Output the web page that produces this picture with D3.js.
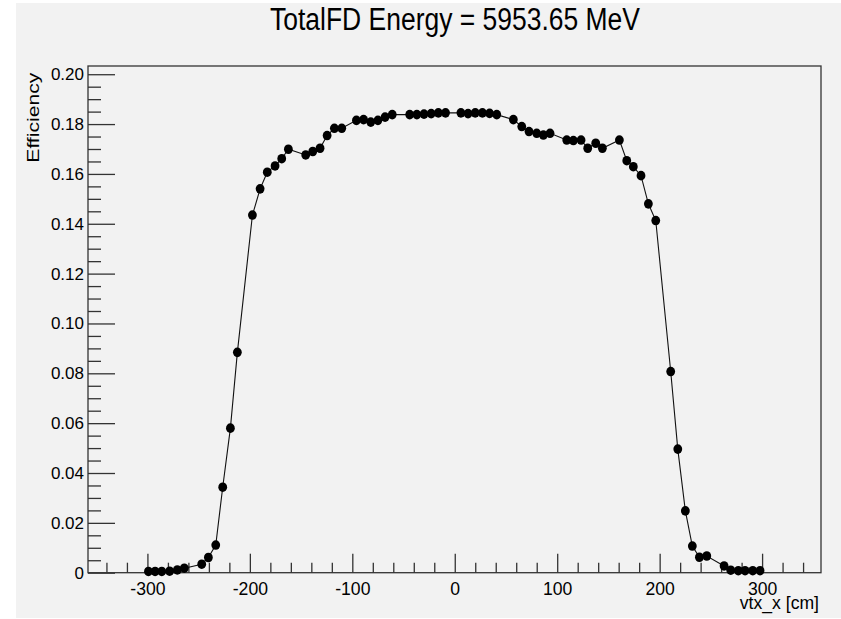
<!DOCTYPE html>
<html>
<head>
<meta charset="utf-8">
<script src="https://cdn.jsdelivr.net/npm/d3@7"></script>
<style>
  body { margin: 0; background: #fff; }
  text { font-family: "Liberation Sans", Arial, sans-serif; fill: #000; }
</style>
</head>
<body>
<div id="chart"></div>
<script>
// vertex x positions [cm] and efficiency
const vtxX = [
  -299, -292.5, -286, -278.3, -270.8, -264,
  -247, -240.5, -233.3, -226.5, -219, -212.2,
  -197.5, -190, -183, -175.4, -168.9, -162.4,
  -145.5, -138.6, -131.5, -124.6, -117.5, -110.3,
  -96, -89, -82, -75, -68, -61,
  -44, -37, -30, -23, -16, -9,
  6, 13, 20, 27, 34, 41,
  57.2, 65.4, 72.5, 80, 86.5, 93,
  109.3, 115.8, 123.3, 129.8, 137.6, 144.1,
  160.7, 167.9, 174.3, 181.8, 189, 196.2,
  210.8, 217.7, 225.1, 231.9, 238.8, 246,
  262.9, 269.4, 276.8, 283.4, 290.9, 298
];
const efficiency = [
  0.0005, 0.0005, 0.0005, 0.0006, 0.0011, 0.0018,
  0.0034, 0.0061, 0.0111, 0.0343, 0.058, 0.0884,
  0.1435, 0.154, 0.1607, 0.1632, 0.1661, 0.1699,
  0.1676, 0.169, 0.1703, 0.1754, 0.1783, 0.1783,
  0.1815, 0.1818, 0.1808, 0.1815, 0.1828, 0.1838,
  0.1838, 0.1838, 0.184, 0.1842, 0.1845, 0.1845,
  0.1845, 0.1842, 0.1845, 0.1845, 0.1843, 0.1838,
  0.1818, 0.179, 0.177, 0.1763, 0.1756, 0.1763,
  0.1736, 0.1734, 0.1736, 0.1703, 0.1723, 0.1703,
  0.1736, 0.1653, 0.1629, 0.1593, 0.148, 0.1413,
  0.0807, 0.0496, 0.0248, 0.0107, 0.0062, 0.0067,
  0.0027, 0.001, 0.0008, 0.0008, 0.0008, 0.0008
];
const xMajor = [-300, -200, -100, 0, 100, 200, 300];
const yMajor = [0, 0.02, 0.04, 0.06, 0.08, 0.10, 0.12, 0.14, 0.16, 0.18, 0.20];
const titleText = "TotalFD Energy = 5953.65 MeV";

const svgWidth = 841;
const svgHeight = 619;
const margin = { top: 66, right: 20, bottom: 46.3, left: 88 };
const width = svgWidth - margin.left - margin.right;
const height = svgHeight - margin.top - margin.bottom;

const svg = d3.select("#chart")
  .append("svg")
  .attr("width", svgWidth)
  .attr("height", svgHeight);

// grey pad
svg.append("rect")
  .attr("x", 16).attr("y", 3)
  .attr("width", svgWidth - 16).attr("height", svgHeight - 4)
  .attr("fill", "#f2f2f2");

const chartGroup = svg.append("g")
  .attr("transform", `translate(${margin.left}, ${margin.top})`);

const x = d3.scaleLinear().domain([-358, 357.5]).range([0, width]);
const y = d3.scaleLinear().domain([0, 0.2033]).range([height, 0]);

// minor ticks
const xMinor = d3.range(-340, 341, 20).filter(v => v % 100 !== 0);
const yMinor = d3.range(0, 0.2001, 0.005).filter(v => Math.abs(v / 0.02 - Math.round(v / 0.02)) > 1e-6);

chartGroup.append("g")
  .attr("transform", `translate(0, ${height})`)
  .call(d3.axisBottom(x).tickValues(xMinor).tickSize(-10).tickFormat(""))
  .call(g => g.select(".domain").remove());

const xAx = chartGroup.append("g")
  .attr("transform", `translate(0, ${height})`)
  .call(d3.axisBottom(x).tickValues(xMajor).tickSizeInner(-19).tickSizeOuter(0).tickPadding(10)
    .tickFormat(d => String(d)))
  .call(g => g.select(".domain").remove());
xAx.selectAll("text").style("font-size", "17.6px");

chartGroup.append("g")
  .call(d3.axisLeft(y).tickValues(yMinor).tickSize(-13).tickFormat(""))
  .call(g => g.select(".domain").remove());

const yAx = chartGroup.append("g")
  .call(d3.axisLeft(y).tickValues(yMajor).tickSizeInner(-27).tickSizeOuter(0).tickPadding(4)
    .tickFormat(d => d === 0 ? "0" : d3.format(".2f")(d)))
  .call(g => g.select(".domain").remove());
yAx.selectAll("text").style("font-size", "17px");

chartGroup.selectAll(".tick line").attr("stroke", "#333").attr("stroke-width", 1.3);

// frame
chartGroup.append("rect")
  .attr("width", width).attr("height", height)
  .attr("fill", "none").attr("stroke", "#333").attr("stroke-width", 1.3);

const points = vtxX.map((v, i) => ({ vx: v, eff: efficiency[i] }));

chartGroup.append("path")
  .datum(points)
  .attr("fill", "none")
  .attr("stroke", "#111")
  .attr("stroke-width", 1.1)
  .attr("d", d3.line().x(d => x(d.vx)).y(d => y(d.eff)));

chartGroup.selectAll("circle")
  .data(points)
  .enter()
  .append("ellipse")
  .attr("cx", d => x(d.vx))
  .attr("cy", d => y(d.eff))
  .attr("rx", 4.4)
  .attr("ry", 4.8)
  .attr("fill", "#000");

// title and axis labels
svg.append("text")
  .attr("x", 455).attr("y", 30)
  .attr("text-anchor", "middle")
  .attr("textLength", 370)
  .attr("lengthAdjust", "spacingAndGlyphs")
  .style("font-size", "31px")
  .text(titleText);

svg.append("text")
  .attr("x", 819).attr("y", 609)
  .attr("text-anchor", "end")
  .style("font-size", "17.6px")
  .text("vtx_x [cm]");

svg.append("text")
  .attr("transform", "translate(38.7, 72.7) rotate(-90)")
  .attr("text-anchor", "end")
  .attr("textLength", 90)
  .attr("lengthAdjust", "spacingAndGlyphs")
  .style("font-size", "17px")
  .text("Efficiency");
</script>
</body>
</html>
